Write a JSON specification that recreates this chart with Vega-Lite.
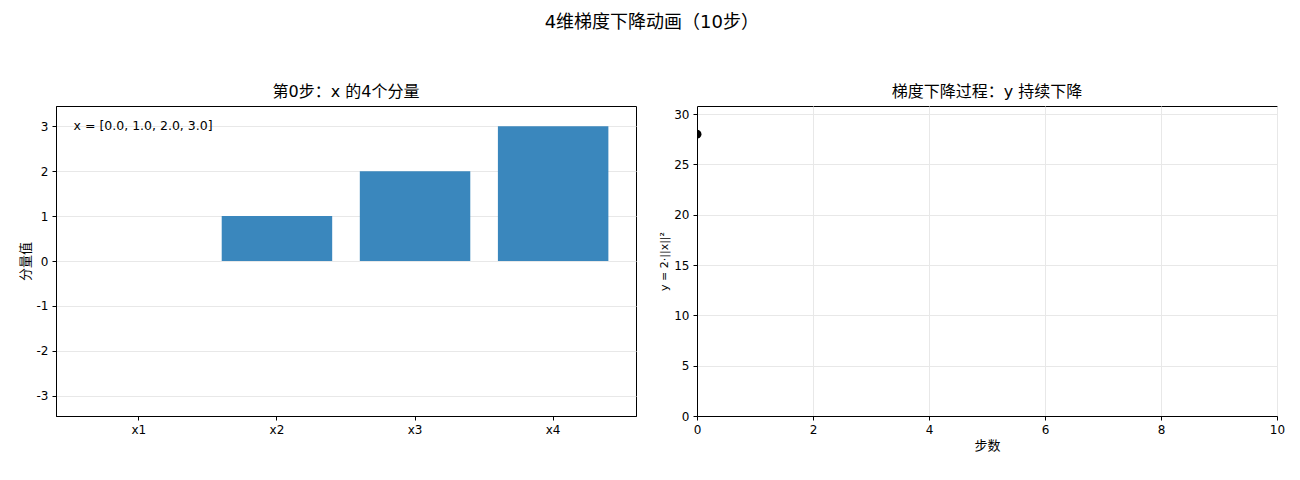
{
  "$schema": "https://vega.github.io/schema/vega-lite/v6.json",
  "background": "white",
  "padding": {"left": 18, "top": 13, "right": 12, "bottom": 10},
  "title": {"text": "4维梯度下降动画（10步）", "fontSize": 18, "fontWeight": "normal", "anchor": "middle", "offset": 52, "color": "black"},
  "bounds": "flush",
  "spacing": 61,
  "config": {
    "font": "DejaVu Sans, Noto Sans CJK SC",
    "view": {"stroke": "black", "strokeWidth": 1},
    "title": {"fontWeight": "normal", "color": "black"},
    "axis": {
      "labelFontSize": 12,
      "titleFontSize": 13,
      "titleFontWeight": "normal",
      "labelColor": "black",
      "titleColor": "black",
      "domainColor": "black",
      "tickColor": "black",
      "gridColor": "#e8e8e8",
      "tickSize": 4,
      "labelPadding": 4,
      "labelFlush": false
    }
  },
  "hconcat": [
    {
      "width": 580,
      "height": 310,
      "title": {"text": "第0步：x 的4个分量", "fontSize": 16, "offset": 6},
      "data": {"values": [
        {"component": "x1", "value": 0},
        {"component": "x2", "value": 1},
        {"component": "x3", "value": 2},
        {"component": "x4", "value": 3}
      ]},
      "layer": [
        {
          "mark": {"type": "bar", "color": "#3a87bd"},
          "encoding": {
            "x": {"field": "component", "type": "nominal", "scale": {"paddingInner": 0.2, "paddingOuter": 0.2}, "axis": {"title": null, "labelAngle": 0, "grid": false}},
            "y": {"field": "value", "type": "quantitative", "scale": {"domain": [-3.45, 3.45], "nice": false}, "axis": {"title": "分量值", "values": [-3, -2, -1, 0, 1, 2, 3], "labelExpr": "toString(datum.value)", "grid": true}}
          }
        },
        {
          "data": {"values": [{"label": "x = [0.0, 1.0, 2.0, 3.0]", "component": "x1", "value": 3}]},
          "mark": {"type": "text", "align": "left", "baseline": "middle", "dx": -10, "fontSize": 12.5, "color": "black"},
          "encoding": {
            "x": {"field": "component", "type": "nominal", "bandPosition": 0},
            "y": {"field": "value", "type": "quantitative"},
            "text": {"field": "label"}
          }
        }
      ]
    },
    {
      "width": 580,
      "height": 310,
      "title": {"text": "梯度下降过程：y 持续下降", "fontSize": 16, "offset": 6},
      "data": {"values": [{"step": 0, "y": 28}]},
      "layer": [
        {
          "mark": {"type": "line", "color": "black", "clip": true},
          "encoding": {
            "x": {"field": "step", "type": "quantitative"},
            "y": {"field": "y", "type": "quantitative"}
          }
        },
        {
          "mark": {"type": "circle", "color": "black", "size": 80, "opacity": 1, "clip": true},
          "encoding": {
            "x": {"field": "step", "type": "quantitative", "scale": {"domain": [0, 10], "nice": false}, "axis": {"title": "步数", "values": [0, 2, 4, 6, 8, 10], "labelExpr": "toString(datum.value)", "grid": true}},
            "y": {"field": "y", "type": "quantitative", "scale": {"domain": [0, 30.8], "nice": false}, "axis": {"title": "y = 2·||x||²", "titleFontSize": 11, "values": [0, 5, 10, 15, 20, 25, 30], "labelExpr": "toString(datum.value)", "grid": true}}
          }
        }
      ]
    }
  ]
}
